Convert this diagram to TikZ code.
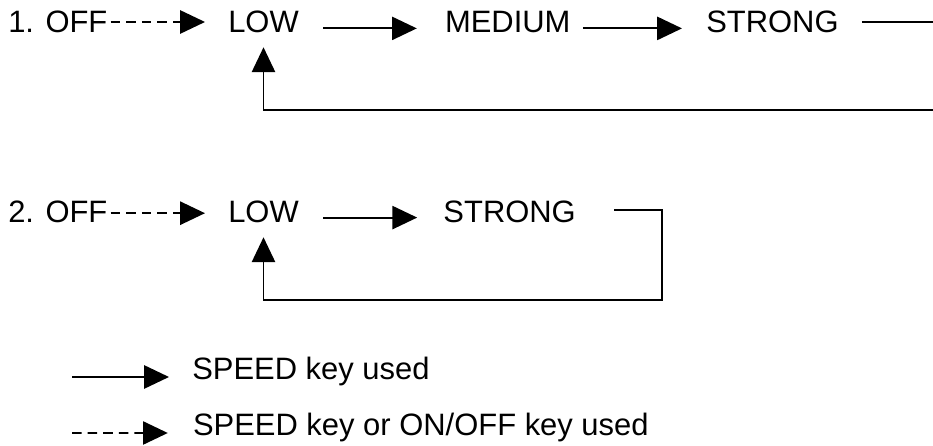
\documentclass[tikz,border=0pt]{standalone}
\usepackage{fontspec}
\setmainfont{Liberation Sans}
\usetikzlibrary{arrows.meta}

\begin{document}
\begin{tikzpicture}[
    lbl/.style={inner sep=0pt, anchor=base west, text height=0.55cm, text depth=0pt,
                font=\fontsize{22}{26}\selectfont},
    speedarrow/.style={line width=1.3pt, -{Triangle[length=0.62cm, width=0.58cm]}},
    anykey/.style={speedarrow, dash pattern=on 0.24cm off 0.15cm},
    plainline/.style={line width=1.3pt}
]
    \useasboundingbox (0, 0) rectangle (23.325, 11.15);

    % 1. three speeds
    \node [lbl] (off1) at (0.2, 10.325){1. OFF};
    \node [lbl] (low1) at (5.7, 10.325){LOW};
    \node [lbl] (med1) at (11.12, 10.325){MEDIUM};
    \node [lbl] (strong1) at (17.65, 10.325){STRONG};
    \coordinate (back1) at (23.325, 8.4);

    \draw [anykey] ([xshift=0.075cm]off1.east) -- ([xshift=-0.575cm]low1.west);
    \draw [speedarrow] ([xshift=0.6cm, yshift=-0.16cm]low1.east) -- ([xshift=-0.7cm, yshift=-0.16cm]med1.west);
    \draw [speedarrow] ([xshift=0.3cm, yshift=-0.16cm]med1.east) -- ([xshift=-0.6cm, yshift=-0.16cm]strong1.west);
    \draw [plainline] ([xshift=0.575cm]strong1.east) -- (strong1.east -| back1);
    \draw [speedarrow] (back1) -| ([yshift=-0.35cm]low1.south);

    % 2. two speeds
    \node [lbl] (off2) at (0.2, 5.575){2. OFF};
    \node [lbl] (low2) at (5.7, 5.575){LOW};
    \node [lbl] (strong2) at (11.08, 5.575){STRONG};
    \coordinate (turn2) at (16.55, 3.65);

    \draw [anykey] ([xshift=0.075cm, yshift=-0.03cm]off2.east) -- ([xshift=-0.575cm, yshift=-0.03cm]low2.west);
    \draw [speedarrow] ([xshift=0.6cm, yshift=-0.14cm]low2.east) -- ([xshift=-0.65cm, yshift=-0.14cm]strong2.west);
    \draw [speedarrow] ([xshift=0.95cm, yshift=0.06cm]strong2.east) -| (turn2) -| ([yshift=-0.35cm]low2.south);

    % key
    \node [lbl] (used1) at (4.8, 1.65){SPEED key used};
    \node [lbl] (used2) at (4.82, 0.25){SPEED key or ON/OFF key used};
    \coordinate (key1) at (1.8, 1.725);
    \coordinate (key2) at (1.8, 0.325);

    \draw [speedarrow] (key1) -- ([xshift=-0.575cm, yshift=-0.2cm]used1.west);
    \draw [anykey] (key2) -- ([xshift=-0.625cm, yshift=-0.2cm]used2.west);
\end{tikzpicture}
\end{document}
